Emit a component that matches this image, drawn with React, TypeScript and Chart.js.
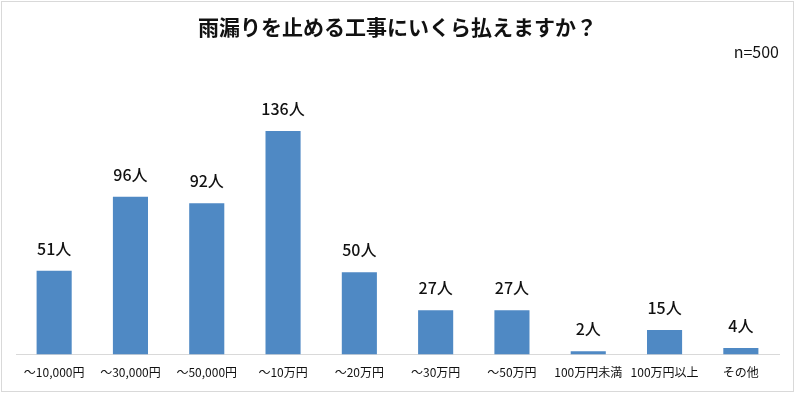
import React, { useEffect, useRef } from "react";
import { Chart, registerables } from "chart.js";

Chart.register(...registerables);

const TITLE = "雨漏りを止める工事にいくら払えますか？";
const SAMPLE = "n=500";
const categories = [
  "～10,000円",
  "～30,000円",
  "～50,000円",
  "～10万円",
  "～20万円",
  "～30万円",
  "～50万円",
  "100万円未満",
  "100万円以上",
  "その他",
];
const counts = [51, 96, 92, 136, 50, 27, 27, 2, 15, 4];
const unit = "人";

const FONT = "'Noto Sans CJK JP', 'Noto Sans', sans-serif";

const labelPlugin = {
  id: "barLabels",
  afterDatasetsDraw(chart: any) {
    const ctx = chart.ctx;
    const meta = chart.getDatasetMeta(0);
    ctx.save();
    ctx.font = `500 16px ${FONT}`;
    ctx.fillStyle = "#111";
    ctx.textAlign = "center";
    ctx.textBaseline = "bottom";
    meta.data.forEach((bar: any, i: number) => {
      ctx.fillText(`${counts[i]}${unit}`, bar.x, bar.y - 14);
    });
    ctx.restore();
  },
};

const framePlugin = {
  id: "frame",
  afterDraw(chart: any) {
    const ctx = chart.ctx;
    ctx.save();
    ctx.strokeStyle = "#d9d9d9";
    ctx.lineWidth = 1;
    ctx.strokeRect(1.5, 1.5, chart.width - 3, chart.height - 3);
    ctx.restore();
  },
};

export default function App() {
  const ref = useRef<HTMLCanvasElement | null>(null);
  useEffect(() => {
    if (!ref.current) return;
    const chart = new Chart(ref.current, {
      type: "bar",
      data: {
        labels: categories,
        datasets: [
          {
            data: counts,
            backgroundColor: "#4f89c4",
            categoryPercentage: 1,
            barPercentage: 0.46,
          },
        ],
      },
      options: {
        responsive: false,
        animation: false,
        layout: { padding: { left: 16, right: 16, bottom: 10, top: 0 } },
        plugins: {
          legend: { display: false },
          tooltip: { enabled: false },
          title: {
            display: true,
            text: TITLE,
            color: "#111",
            font: { family: FONT, size: 21, weight: "bold" },
            padding: { top: 14, bottom: 1 },
          },
          subtitle: {
            display: true,
            text: SAMPLE,
            align: "end",
            color: "#111",
            font: { family: FONT, size: 16 },
            padding: { top: 2, bottom: 58 },
          },
        },
        scales: {
          x: {
            grid: { display: false },
            border: { display: true, color: "#d9d9d9", width: 1 },
            ticks: {
              color: "#111",
              font: { family: FONT, size: 12 },
              padding: 3,
              maxRotation: 0,
              autoSkip: false,
            },
          },
          y: {
            display: false,
            min: 0,
            max: 143,
          },
        },
      },
      plugins: [labelPlugin, framePlugin],
    });
    return () => chart.destroy();
  }, []);
  return (
    <div style={{ position: "fixed", left: 0, top: 0, width: 795, height: 393, background: "#fff" }}>
      <canvas ref={ref} width={795} height={393} style={{ display: "block" }} />
    </div>
  );
}
